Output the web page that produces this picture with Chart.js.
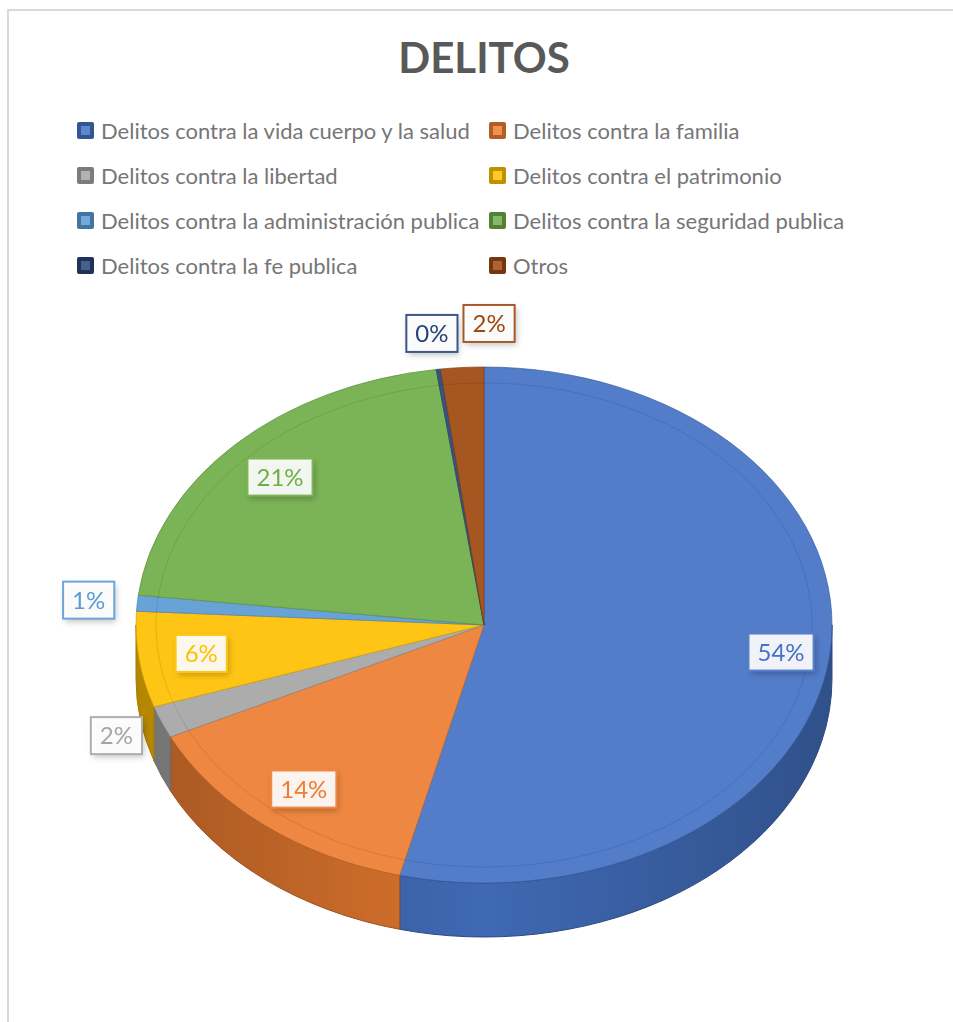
<!DOCTYPE html>
<html lang="es">
<head>
  <meta charset="UTF-8">
  <title>DELITOS</title>
  <style>
    body { margin: 0; background: #fff; font-family: Lato, "Open Sans", sans-serif; }
    #frame { position: absolute; left: 7px; top: 9px; width: 960px; height: 1030px; border: 2px solid #d9d9d9; box-sizing: border-box; }
    #title { position: absolute; left: 0; width: 968px; top: 32px; text-align: center; font-weight: bold; font-size: 42px; color: #595959; }
    #legend { position: absolute; left: 77px; top: 116px; }
    .item { position: absolute; white-space: nowrap; font-size: 22px; color: #767676; display: flex; align-items: center; height: 28px; }
    .box { width: 17px; height: 17px; border-radius: 2px; margin-right: 7px; display: flex; align-items: center; justify-content: center; }
    .box span { width: 9px; height: 9px; display: block; }
    canvas { position: absolute; left: 0; top: 0; }
  </style>
  <script src="https://cdn.jsdelivr.net/npm/chart.js"></script>
</head>
<body>

<div id="frame"></div>
<div id="title">DELITOS</div>
<div id="legend"></div>
<canvas id="pie" width="953" height="1022"></canvas>

<script>
  const categories = [
    'Delitos contra la vida cuerpo y la salud',
    'Delitos contra la familia',
    'Delitos contra la libertad',
    'Delitos contra el patrimonio',
    'Delitos contra la administración publica',
    'Delitos contra la seguridad publica',
    'Delitos contra la fe publica',
    'Otros'
  ];
  const percents = [54, 14, 2, 6, 1, 21, 0.2, 2];
  const percentLabels = ['54%', '14%', '2%', '6%', '1%', '21%', '0%', '2%'];
  const colors = ['#4472c4', '#ed7d31', '#a5a5a5', '#ffc000', '#5b9bd5', '#70ad47', '#264478', '#9e480e'];

  // geometria de la elipse en pantalla
  const CX = 484, CY = 625, RX = 348, RY = 258, DEPTH = 54;

  function shade(hex, f) {
    const n = parseInt(hex.slice(1), 16);
    let r = n >> 16, g = (n >> 8) & 255, b = n & 255;
    if (f < 0) { r *= 1 + f; g *= 1 + f; b *= 1 + f; }
    else { r += (255 - r) * f; g += (255 - g) * f; b += (255 - b) * f; }
    return `rgb(${Math.round(r)},${Math.round(g)},${Math.round(b)})`;
  }

  // leyenda en dos columnas
  const legend = document.getElementById('legend');
  categories.forEach((name, i) => {
    const d = document.createElement('div');
    d.className = 'item';
    d.style.left = (i % 2 ? 412 : 0) + 'px';
    d.style.top = (Math.floor(i / 2) * 45) + 'px';
    d.innerHTML = `<div class="box" style="background:${shade(colors[i], -0.25)}"><span style="background:${shade(colors[i], 0.15)}"></span></div>${name}`;
    legend.appendChild(d);
  });

  const pie3d = {
    id: 'pie3d',
    beforeDatasetsDraw(chart) {
      const ctx = chart.ctx;
      const arcs = chart.getDatasetMeta(0).data;
      // lateral (solo la mitad frontal)
      arcs.forEach((el, i) => {
        const a = Math.max(el.startAngle, 0), b = Math.min(el.endAngle, Math.PI);
        if (b <= a) return;
        ctx.save();
        ctx.beginPath();
        ctx.ellipse(CX, CY, RX, RY, 0, a, b);
        ctx.ellipse(CX, CY + DEPTH, RX, RY, 0, b, a, true);
        ctx.closePath();
        const g = ctx.createLinearGradient(CX - RX, 0, CX + RX, 0);
        g.addColorStop(0, shade(colors[i], -0.3));
        g.addColorStop(0.5, shade(colors[i], -0.08));
        g.addColorStop(1, shade(colors[i], -0.3));
        ctx.fillStyle = g;
        ctx.fill();
        ctx.strokeStyle = shade(colors[i], -0.35);
        ctx.lineWidth = 1;
        ctx.stroke();
        ctx.restore();
      });
      const { x, y, outerRadius } = arcs[0];
      ctx.save();
      ctx.translate(CX, CY);
      ctx.scale(RX / outerRadius, RY / outerRadius);
      ctx.translate(-x, -y);
    },
    afterDatasetsDraw(chart) {
      const ctx = chart.ctx;
      ctx.restore();
      // bisel interior
      ctx.save();
      ctx.beginPath();
      ctx.ellipse(CX, CY, RX - 20, RY - 16, 0, 0, Math.PI * 2);
      ctx.strokeStyle = 'rgba(0,0,0,0.10)';
      ctx.lineWidth = 1;
      ctx.stroke();
      ctx.restore();

      // etiquetas
      const arcs = chart.getDatasetMeta(0).data;
      ctx.save();
      ctx.font = '24px Lato, "Open Sans", sans-serif';
      ctx.textAlign = 'center';
      ctx.textBaseline = 'middle';
      let prev = null;
      arcs.forEach((el, i) => {
        const mid = (el.startAngle + el.endAngle) / 2;
        const inside = percents[i] >= 5;
        const f = inside ? (percents[i] > 30 ? 0.86 : 0.82) : 1.14;
        const w = ctx.measureText(percentLabels[i]).width + 18, h = 37;
        let lx = CX + RX * f * Math.cos(mid);
        let ly = CY + RY * f * Math.sin(mid);
        if (prev && !inside && Math.abs(ly - prev.y) < h && lx - w / 2 < prev.x + prev.w / 2 + 6) {
          lx = prev.x + prev.w / 2 + 6 + w / 2;
          ly -= 8;
        }
        ctx.save();
        ctx.shadowColor = 'rgba(0,0,0,0.25)';
        ctx.shadowBlur = 6;
        ctx.shadowOffsetX = 2;
        ctx.shadowOffsetY = 3;
        ctx.fillStyle = 'rgba(255,255,255,0.92)';
        ctx.fillRect(lx - w / 2, ly - h / 2, w, h);
        ctx.restore();
        ctx.strokeStyle = shade(colors[i], 0.1);
        ctx.lineWidth = 2;
        ctx.strokeRect(lx - w / 2, ly - h / 2, w, h);
        ctx.fillStyle = colors[i];
        ctx.fillText(percentLabels[i], lx, ly + 1);
        prev = inside ? null : { x: lx, y: ly, w };
      });
      ctx.restore();
    }
  };

  new Chart(document.getElementById('pie'), {
    type: 'pie',
    data: {
      labels: categories,
      datasets: [{
        data: percents,
        backgroundColor: colors.map(c => shade(c, 0.08)),
        borderColor: colors.map(c => shade(c, -0.2)),
        borderWidth: 1,
        clip: false
      }]
    },
    options: {
      responsive: false,
      animation: false,
      layout: { padding: 20 },
      plugins: { legend: { display: false }, tooltip: { enabled: false } }
    },
    plugins: [pie3d]
  });
</script>

</body>
</html>
